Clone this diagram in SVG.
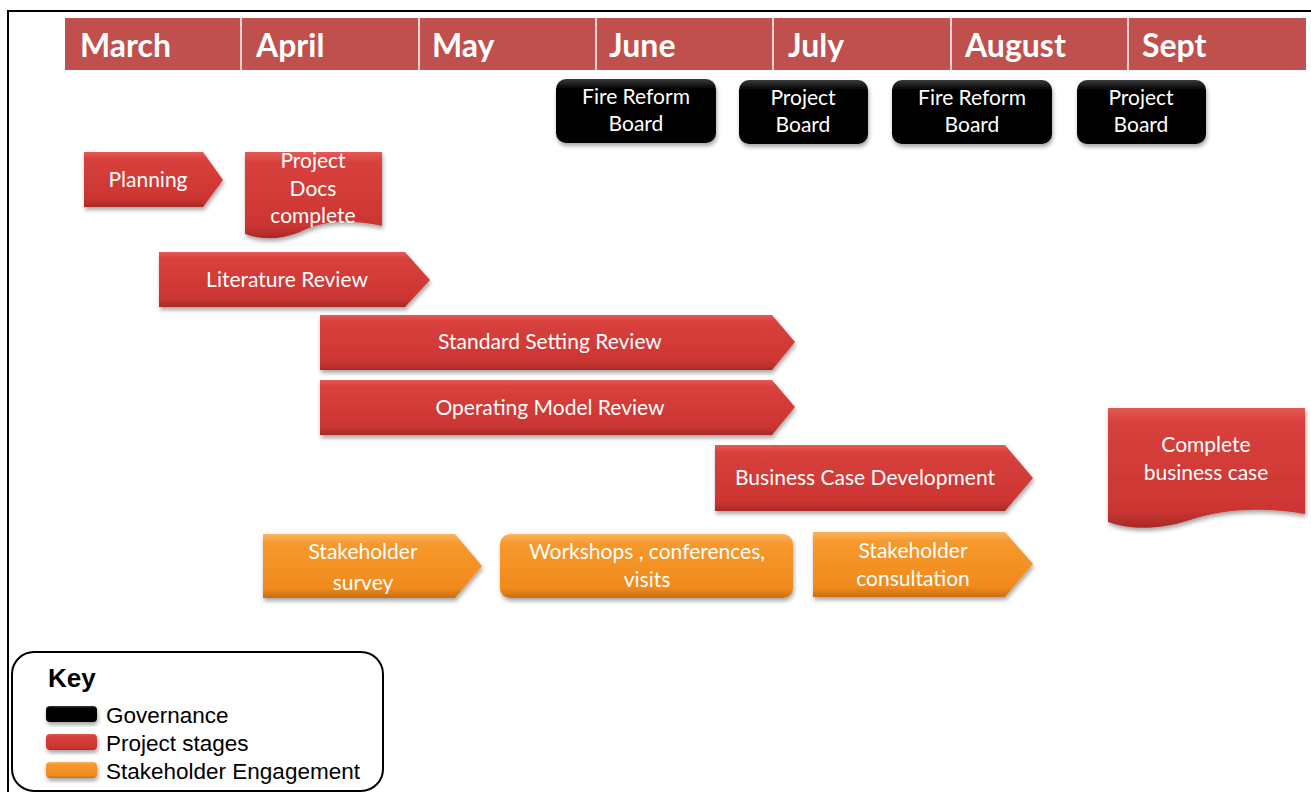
<svg xmlns="http://www.w3.org/2000/svg" width="1311" height="792" viewBox="0 0 1311 792">
<style>
.mon{font-family:Lato,"Liberation Sans",sans-serif;font-weight:bold;font-size:32px;fill:#fff}
.lbl{font-family:Lato,"Open Sans",sans-serif;font-size:21px;fill:#fff;text-anchor:middle}
.key{font-family:"Liberation Sans",Arial,sans-serif;font-size:22.5px;fill:#000}
.red{fill:url(#gRed);filter:url(#sh)}
.org{fill:url(#gOrg);filter:url(#sh)}
.blk{fill:url(#gBlk);filter:url(#sh)}
</style>
<defs>
<linearGradient id="gRed" x1="0" y1="0" x2="0" y2="1">
<stop offset="0" stop-color="#e55a55"/><stop offset="0.12" stop-color="#d8413d"/><stop offset="0.85" stop-color="#cc3532"/><stop offset="1" stop-color="#a82a27"/>
</linearGradient>
<linearGradient id="gOrg" x1="0" y1="0" x2="0" y2="1">
<stop offset="0" stop-color="#fbb45e"/><stop offset="0.15" stop-color="#f7992e"/><stop offset="0.85" stop-color="#f08a1c"/><stop offset="1" stop-color="#c96d12"/>
</linearGradient>
<linearGradient id="gBlk" x1="0" y1="0" x2="0" y2="1">
<stop offset="0" stop-color="#3a3a3a"/><stop offset="0.15" stop-color="#050505"/><stop offset="1" stop-color="#000"/>
</linearGradient>
<filter id="sh" x="-10%" y="-10%" width="120%" height="140%">
<feDropShadow dx="1" dy="3" stdDeviation="2" flood-color="#000" flood-opacity="0.35"/>
</filter>
</defs>
<rect width="1311" height="792" fill="#fff"/>
<path d="M8,792 V11 H1311" fill="none" stroke="#000" stroke-width="2"/>

<g id="months">
<rect x="65" y="18" width="1241" height="52" fill="#c0504d"/>
<g stroke="#fff" stroke-width="1.5">
<line x1="241" y1="18" x2="241" y2="70"/><line x1="419" y1="18" x2="419" y2="70"/><line x1="596" y1="18" x2="596" y2="70"/><line x1="773" y1="18" x2="773" y2="70"/><line x1="951" y1="18" x2="951" y2="70"/><line x1="1128" y1="18" x2="1128" y2="70"/>
</g>
<text class="mon" x="80" y="57">March</text>
<text class="mon" x="256" y="57">April</text>
<text class="mon" x="432" y="57">May</text>
<text class="mon" x="609" y="57">June</text>
<text class="mon" x="788" y="57">July</text>
<text class="mon" x="965" y="57">August</text>
<text class="mon" x="1142" y="57">Sept</text>
</g>

<g id="gov1"><rect class="blk" x="556" y="79" width="160" height="64" rx="10"/><text class="lbl" x="636" y="104">Fire Reform</text><text class="lbl" x="636" y="131">Board</text></g>
<g id="gov2"><rect class="blk" x="739" y="80" width="129" height="64" rx="10"/><text class="lbl" x="803" y="105">Project</text><text class="lbl" x="803" y="132">Board</text></g>
<g id="gov3"><rect class="blk" x="892" y="80" width="160" height="64" rx="10"/><text class="lbl" x="972" y="105">Fire Reform</text><text class="lbl" x="972" y="132">Board</text></g>
<g id="gov4"><rect class="blk" x="1077" y="80" width="129" height="64" rx="10"/><text class="lbl" x="1141" y="105">Project</text><text class="lbl" x="1141" y="132">Board</text></g>

<g id="planning"><path class="red" d="M84,152 H203 L223,180 L203,207 H84 Z"/><text class="lbl" x="148" y="187">Planning</text></g>
<g id="docs"><path class="red" d="M245,152 H382 V226 C345,218 320,222 300,232 C280,240 262,240 245,234 Z"/><text class="lbl" x="313" y="168">Project</text><text class="lbl" x="313" y="196">Docs</text><text class="lbl" x="313" y="223">complete</text></g>
<g id="lit"><path class="red" d="M159,252 H405 L430,280 L405,307 H159 Z"/><text class="lbl" x="287" y="287">Literature Review</text></g>
<g id="std"><path class="red" d="M320,315 H772 L795,342 L772,370 H320 Z"/><text class="lbl" x="550" y="349">Standard Setting Review</text></g>
<g id="opm"><path class="red" d="M320,380 H772 L795,407 L772,435 H320 Z"/><text class="lbl" x="550" y="415">Operating Model Review</text></g>
<g id="bcd"><path class="red" d="M715,445 H1005 L1033,478 L1005,511 H715 Z"/><text class="lbl" x="865" y="485">Business Case Development</text></g>
<g id="cbc"><path class="red" d="M1108,408 H1305 V514 C1260,506 1220,510 1190,520 C1160,530 1130,530 1108,522 Z"/><text class="lbl" x="1206" y="452">Complete</text><text class="lbl" x="1206" y="480">business case</text></g>

<g id="survey"><path class="org" d="M263,534 H455 L482,566 L455,598 H263 Z"/><text class="lbl" x="363" y="559">Stakeholder</text><text class="lbl" x="363" y="590">survey</text></g>
<g id="workshops"><rect class="org" x="500" y="534" width="293" height="64" rx="10"/><text class="lbl" x="647" y="559">Workshops , conferences,</text><text class="lbl" x="647" y="587">visits</text></g>
<g id="consult"><path class="org" d="M813,532 H1005 L1033,564 L1005,597 H813 Z"/><text class="lbl" x="913" y="558">Stakeholder</text><text class="lbl" x="913" y="586">consultation</text></g>

<g id="key">
<rect x="12" y="652" width="371" height="139" rx="22" fill="#fff" stroke="#000" stroke-width="2"/>
<text x="48" y="687" style="font-family:'Liberation Sans',Arial,sans-serif;font-weight:bold;font-size:26px">Key</text>
<rect class="blk" x="46" y="706" width="51" height="16" rx="4"/>
<rect class="red" x="46" y="734" width="51" height="16" rx="4"/>
<rect class="org" x="46" y="762" width="51" height="16" rx="4"/>
<text class="key" x="106" y="723">Governance</text>
<text class="key" x="106" y="751">Project stages</text>
<text class="key" x="106" y="779">Stakeholder Engagement</text>
</g>
</svg>
